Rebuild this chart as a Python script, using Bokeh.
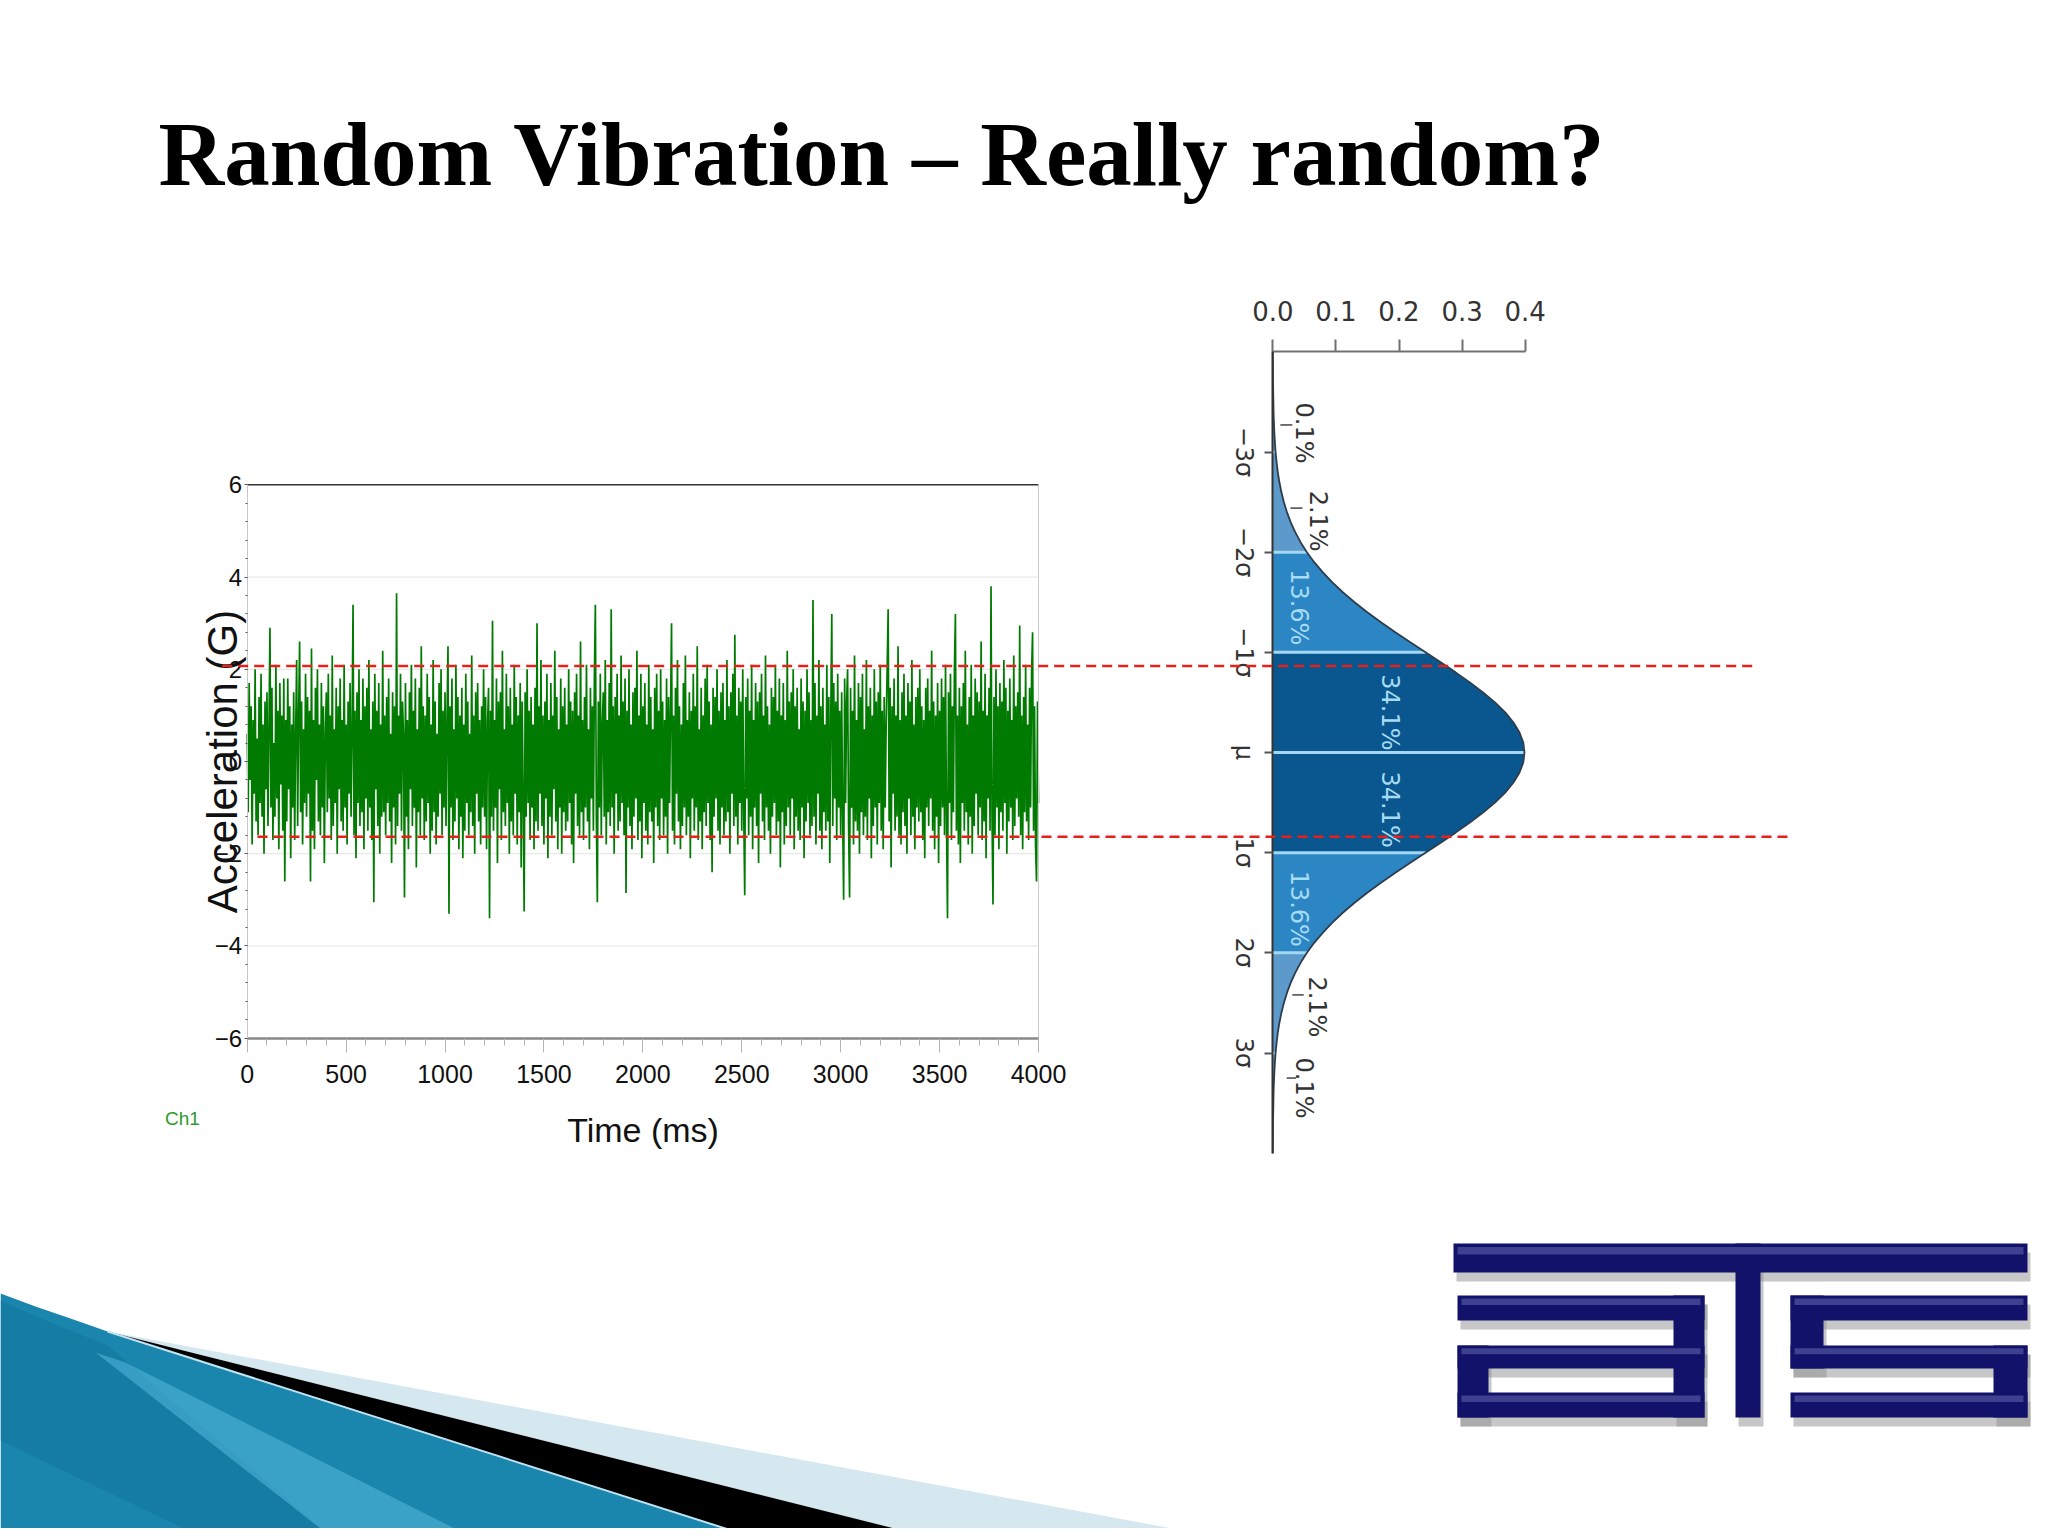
import math
from bokeh.plotting import figure
from bokeh.models import (Range1d, LinearAxis, SingleIntervalTicker, FixedTicker,
                          NumeralTickFormatter)
from bokeh.core.properties import value
from bokeh.embed import file_html
from bokeh.resources import INLINE

# ---------------- data ----------------
TITLE = "Random Vibration – Really random?"

# acceleration samples (G), one every 5 ms
ACC_G = [
    0.6, -1.1, 1.7, -0.4, 1.2, -1.8, 0.9, -0.7, 2.0, -1.3, 0.5, -1.6, 1.4, -0.9, 1.9, -1.2, 0.8, -2.0, 1.3, -0.6,
    1.5, -1.4, 0.7, 2.9, -1.0, 1.6, -1.7, 0.4, -1.2, 2.1, -0.8, 1.1, -1.9, 1.7, -0.5, 1.0, -1.5, 1.8, -2.6, 0.9,
    -1.3, 1.8, -0.6, 1.2, -2.1, 0.8, -1.0, 1.5, -1.7, 0.6, 2.2, -1.4, 1.0, 2.6, -1.1, 1.3, -1.8, 0.7, -0.9, 1.9,
    -1.2, 1.4, -0.7, 1.1, -2.6, 2.45, -1.5, 0.9, -1.9, 1.6, -0.4, 2.0, -1.3, 0.8, -1.6, 1.7, -1.0, 1.2, -2.2, 0.6,
    1.5, -1.1, 1.9, -0.8, 1.0, -1.7, 2.3, -1.4, 0.7, -0.9, 1.6, -2.0, 1.2, -0.6, 1.8, -1.3, 0.9, -1.5, 2.1, -1.0,
    0.8, -1.8, 1.3, -0.7, 1.7, -1.2, 0.6, 3.4, -1.6, 1.1, -2.1, 1.5, -0.9, 2.0, -1.4, 0.9, -1.1, 1.8, -1.9, 1.2,
    -0.8, 1.6, -1.5, 2.2, -1.0, 0.7, -1.7, 1.3, -3.05, 1.9, -0.6, 1.1, -1.4, 1.7, -2.0, 0.8, -1.2, 2.4, -1.1, 1.0,
    -1.6, 1.4, -0.9, 1.8, -1.3, 0.6, -2.2, 1.5, -1.0, 1.2, -1.8, 3.65, -1.4, 1.0, -0.7, 1.9, -1.5, 1.3, 0.6, -2.95,
    1.7, -1.2, 0.9, -1.9, 1.5, -0.6, 2.1, -1.4, 1.1, -1.0, 1.8, -2.3, 0.7, -1.1, 1.6, -1.6, 2.5, -0.8, 1.2, -1.7,
    1.0, -1.3, 1.9, -0.9, 1.4, -2.0, 0.8, -1.5, 2.2, -1.1, 1.3, -1.8, 0.6, -1.2, 1.7, -0.7, 2.0, -1.6, 1.1, -1.0,
    1.5, -1.4, 0.9, 2.5, -3.3, 1.2, -1.0, 1.8, -1.7, 0.7, -1.3, 2.1, -0.8, 1.4, -1.9, 1.0, -1.2, 1.6, -2.1, 0.8,
    -1.5, 1.9, -0.9, 1.3, -1.6, 0.6, -1.1, 2.3, -1.4, 1.0, -2.0, 1.5, -0.7, 1.7, -1.3, 0.9, -1.8, 1.2, -1.0, 2.0,
    -1.2, 1.4, -1.9, 0.8, 1.6, -3.4, 1.1, -1.2, 3.05, -1.5, 0.9, -1.0, 1.8, -2.2, 1.3, -0.6, 1.5, -1.7, 2.4, -1.1,
    0.7, -1.4, 1.9, -0.9, 1.2, -2.0, 1.6, -1.3, 0.8, -1.6, 2.1, -0.7, 1.4, -1.8, 1.0, -1.1, 1.7, -2.3, 1.3, -0.8,
    -3.25, 1.5, -1.2, 2.0, -0.9, 1.1, -1.7, 1.4, -1.0, 0.8, -1.9, 1.6, -1.3, 3.0, -1.5, 1.2, -0.7, 2.2, -1.4, 1.0,
    -1.8, 1.3, -0.8, 1.9, -2.1, 0.9, -1.2, 1.7, -1.6, 1.0, -0.6, 2.4, -1.3, 1.4, -1.9, 0.7, -1.0, 1.8, -2.0, 1.2,
    -1.1, 1.6, -1.5, 0.8, -1.3, 2.0, -0.9, 1.3, -1.8, 1.1, -2.2, 1.5, -0.7, 1.9, -1.4, 1.0, -1.6, 2.6, -1.1, 0.9,
    -1.7, 1.4, -1.0, 2.1, -1.3, 0.7, -1.9, 1.6, -0.8, 1.2, -1.5, 1.8, 3.4, -1.2, -3.05, 1.3, -1.0, 1.9, -1.6, 0.8,
    1.5, -1.2, 2.2, -1.8, 0.9, -1.1, 1.7, -1.4, 3.3, -1.0, 1.2, -2.0, 1.4, -0.7, 1.9, -1.5, 1.0, -1.3, 2.3, -0.9,
    1.3, -1.6, 1.8, -2.85, 1.1, -1.0, 2.0, -1.4, 0.8, -1.9, 1.5, -1.2, 1.6, -0.8, 2.4, -1.7, 1.0, -1.3, 1.9, -2.1,
    1.2, -0.9, 1.7, -1.5, 0.8, -1.8, 2.1, -1.1, 1.4, -1.3, 0.7, -2.2, 1.6, -1.0, 1.9, -1.4, 1.1, -1.7, 2.0, -0.8,
    1.3, -1.6, 0.9, -1.2, 1.8, -2.0, 1.4, -0.9, 1.1, 3.0, -1.5, 1.0, -1.8, 1.6, -0.7, 2.2, -1.3, 1.2, -1.9, 0.8,
    -1.4, 1.7, -1.0, 2.3, -1.6, 0.9, -1.2, 1.5, -2.1, 1.1, -0.8, 1.9, -1.5, 1.2, -1.0, 2.5, -1.7, 0.7, -1.3, 1.6,
    -1.9, 1.0, -1.1, 1.8, -1.4, 2.1, -0.9, 1.3, -1.7, 0.8, -2.4, 1.6, -1.2, 1.4, -0.8, 2.0, -1.5, 1.1, -1.8, 1.5,
    -1.0, 1.7, -1.6, 0.9, -1.3, 2.2, -1.1, 1.2, -2.0, 1.5, -0.7, 1.9, -1.4, 2.75, -1.2, 1.0, -1.8, 1.6, -0.9, 1.3,
    -1.5, 2.0, -1.1, -2.9, 1.4, -0.8, 1.8, -1.6, 1.1, -1.2, 2.1, -1.9, 0.9, -1.0, 1.7, -1.4, 1.3, -2.2, 1.5, -0.7,
    1.9, -1.3, 1.0, -1.7, 2.3, -1.0, 1.2, -1.5, 0.8, -2.0, 1.6, -1.2, 1.4, -0.9, 2.1, -1.6, 1.1, -1.3, 1.8, -2.3,
    1.0, -1.1, 1.7, -1.8, 0.9, -1.4, 2.4, -1.0, 1.3, -1.6, 1.5, -0.8, 2.0, -1.9, 1.2, -1.2, 1.6, -1.5, 0.7, -1.7,
    1.8, -1.0, 1.3, -2.1, 1.1, -1.3, 2.0, -0.9, 1.5, -1.6, 0.9, -1.4, 3.5, -1.2, 1.7, -1.8, 1.0, -0.7, 2.2, -1.5,
    1.2, -1.9, 1.6, -1.1, 0.8, -1.5, 2.1, -1.3, 1.4, -2.2, 1.0, 3.2, -1.4, 1.7, -0.8, 1.3, -1.7, 1.9, -1.0, 1.1,
    -1.6, 1.5, -1.2, -3.0, 1.8, -0.9, 1.3, 2.0, -1.4, -2.95, 1.6, -1.0, 1.1, -1.8, 2.3, -1.3, 0.9, -1.5, 1.7, -2.0,
    1.4, -1.1, 1.9, -1.6, 0.7, -1.2, 2.2, -1.7, 1.2, -0.8, 1.6, -2.1, 1.0, -1.4, 2.0, -1.0, 1.3, -1.8, 1.5, -0.9,
    2.1, -1.5, 1.1, -1.9, 1.4, -1.0, 0.8, 2.0, 3.3, -1.3, 1.6, -2.3, 1.2, -0.7, 1.8, -1.5, 1.0, -1.2, 2.5, -1.6,
    0.9, -1.8, 1.5, -1.1, 1.9, -1.4, 1.0, -2.0, 1.7, -0.8, 1.3, -1.6, 2.2, -1.2, 0.8, -1.9, 1.4, -1.0, 1.6, -1.3,
    2.0, -1.1, 1.2, -1.7, 0.9, -2.1, 1.6, -1.0, 1.8, -1.4, 1.1, -0.8, 2.4, -1.5, 1.3, -1.9, 1.0, -1.2, 1.7, -2.2,
    1.1, -1.4, 1.8, -1.0, 1.4, -1.6, 2.1, -1.3, -3.4, 1.5, -0.9, 1.9, -1.7, 1.2, -1.1, 2.0, 3.2, -1.5, 1.0, -1.8,
    1.6, -2.2, 1.2, -0.9, 1.7, -1.5, 2.4, -1.1, 0.8, -1.8, 1.4, -1.2, 2.1, -2.0, 1.0, -1.4, 1.8, -0.7, 1.5, -1.6,
    1.3, -1.0, 2.6, -1.7, 1.1, -1.3, 1.9, -2.1, 1.0, -0.8, 1.6, -1.5, 3.8, -1.2, -3.1, 1.4, -1.6, 2.0, -1.0, 1.2,
    -1.9, 1.7, -1.1, 1.3, -1.5, 2.2, -0.9, 1.6, -2.0, 1.1, -1.3, 1.8, -1.0, 0.9, -1.7, 2.3, -1.4, 1.2, -0.8, 1.5,
    -1.2, 2.95, -1.6, 1.0, -1.9, 1.4, -1.1, 2.1, -1.3, 0.8, -1.7, 1.6, -1.0, 1.9, 2.8, -1.5, 1.2, -1.8, -2.6, 1.3,
    -0.9,
]
SAMPLE_MS = 5
TIME_MS = [i * SAMPLE_MS for i in range(len(ACC_G))]
TIME_LIMITS = (0, 4000)
ACC_LIMITS = (-6, 6)
TIME_TICK_STEP = 500
ACC_TICK_STEP = 2
ACC_GRID = [-4, -2, 0, 2, 4]
RED_LEVELS_G = [2.07, -1.63]
CHANNEL = "Ch1"
TIME_LABEL = "Time (ms)"
ACC_LABEL = "Acceleration (G)"

# standard normal curve, read at 0.1 sigma steps (right half, mirrored)
SIGMA_HALF = [0.0, 0.1, 0.2, 0.3, 0.4, 0.5, 0.6, 0.7, 0.8, 0.9, 1.0, 1.1, 1.2, 1.3, 1.4,
              1.5, 1.6, 1.7, 1.8, 1.9, 2.0, 2.1, 2.2, 2.3, 2.4, 2.5, 2.6, 2.7, 2.8, 2.9,
              3.0, 3.1, 3.2, 3.3, 3.4, 3.5, 3.6, 3.7, 3.8, 3.9, 4.0]
PDF_HALF = [0.3989, 0.3970, 0.3910, 0.3814, 0.3683, 0.3521, 0.3332, 0.3123, 0.2897, 0.2661,
            0.2420, 0.2179, 0.1942, 0.1714, 0.1497, 0.1295, 0.1109, 0.0940, 0.0790, 0.0656,
            0.0540, 0.0440, 0.0355, 0.0283, 0.0224, 0.0175, 0.0136, 0.0104, 0.0079, 0.0060,
            0.0044, 0.0033, 0.0024, 0.0017, 0.0012, 0.0009, 0.0006, 0.0004, 0.0003, 0.0002,
            0.0001]
SIGMA = [-s for s in SIGMA_HALF[::-1]] + SIGMA_HALF[1:]
PDF = PDF_HALF[::-1] + PDF_HALF[1:]
DENS_TICKS = [0.0, 0.1, 0.2, 0.3, 0.4]
SIGMA_TICKS = [-3, -2, -1, 0, 1, 2, 3]
SIGMA_TICK_LABELS = ["−3σ", "−2σ", "−1σ", "μ", "1σ", "2σ", "3σ"]
BAND_EDGES = [-4, -3, -2, -1, 0, 1, 2, 3, 4]
BAND_PCT = ["0.1%", "2.1%", "13.6%", "34.1%", "34.1%", "13.6%", "2.1%", "0.1%"]
SEPARATORS = [-3, -2, -1, 0, 1, 2, 3]

# ---------------- layout / style ----------------
PAGE_X0, PAGE_X1 = 0, 2040
PAGE_Y0, PAGE_Y1 = 0, 1528
L_X0, L_X1 = 246.7, 1038.0      # page px of t = 0 and 4000
L_Y6, L_YM6 = 484.3, 1037.7     # page px of acc = 6 and -6
R_X0, R_X4 = 1272.3, 1524.7     # page px of density 0.0 and 0.4
R_YMU, R_Y3 = 752.0, 1052.5     # page px of 0 sigma and 3 sigma

BAND_COLORS = ["#6ea6d2", "#5b9acb", "#2c86c4", "#0a568e",
               "#0a568e", "#2c86c4", "#5b9acb", "#6ea6d2"]
PCT_COLORS = ["#333333", "#333333", "#a6dbf4", "#a6dbf4",
              "#a6dbf4", "#a6dbf4", "#333333", "#333333"]
PCT_SIGMA_POS = [-3.19, -2.31, -1.45, -0.40, 0.57, 1.56, 2.54, 3.35]
PCT_DENS_POS = [0.050, 0.071, 0.042, 0.1865, 0.1865, 0.042, 0.070, 0.049]
SIGMA_LABEL_DENS = -0.0464
LEADER_SIGMA = [-3.27, -2.44, 2.42, 3.25]
LEADER_D0 = [0.012, 0.028, 0.031, 0.022]
LEADER_D1 = [0.031, 0.047, 0.049, 0.037]
RED_X0 = [221.7, 257.0]
RED_X1 = [1757.0, 1792.0]

SANS = "Liberation Sans"


def x_range_for(p0, p1, d0, d1):
    s = (d1 - d0) / (p1 - p0)
    return Range1d(start=d0 + (PAGE_X0 - p0) * s, end=d0 + (PAGE_X1 - p0) * s)


def y_range_for(p0, p1, d0, d1):
    s = (d1 - d0) / (p1 - p0)
    return Range1d(start=d0 + (PAGE_Y1 - p0) * s, end=d0 + (PAGE_Y0 - p0) * s)


p = figure(width=PAGE_X1 - PAGE_X0, height=PAGE_Y1 - PAGE_Y0,
           x_range=Range1d(PAGE_X0, PAGE_X1), y_range=Range1d(PAGE_Y1, PAGE_Y0),
           x_axis_type=None, y_axis_type=None, output_backend="svg",
           toolbar_location=None, min_border=0)
p.outline_line_color = None
p.background_fill_color = "white"
p.border_fill_color = "white"

p.extra_x_ranges = {
    "t": x_range_for(L_X0, L_X1, TIME_LIMITS[0], TIME_LIMITS[1]),
    "dens": x_range_for(R_X0, R_X4, 0.0, 0.4),
}
p.extra_y_ranges = {
    "acc": y_range_for(L_Y6, L_YM6, ACC_LIMITS[1], ACC_LIMITS[0]),
    "sig": y_range_for(R_YMU, R_Y3, 0.0, 3.0),
}

# ---------------- slide decoration ----------------
p.patch([0, 35, 70, 107, 750, 0], [1293, 1306, 1318, 1331, 1536, 1536],
        fill_color="#1a85ad", line_color=None)
p.patch([0, 40, 107, 330, 200, 0], [1300, 1318, 1345, 1536, 1536, 1440],
        fill_color="#13779c", line_color=None, fill_alpha=0.6)
p.patch([95, 125, 470, 330], [1352, 1362, 1536, 1536],
        fill_color="#55b8dc", line_color=None, fill_alpha=0.55)
p.patch([107, 1215, 926], [1331, 1536, 1536], fill_color="#d5e7ef", line_color=None)
p.patch([107, 926, 750], [1331, 1536, 1536], fill_color="black", line_color=None)
p.line([107, 750], [1331, 1536], line_color="#bfe3f0", line_width=2)

LOGO_BARS = [
    (1453, 2027, 1243, 1272),
    (1457, 1704, 1295, 1320), (1673, 1704, 1295, 1417), (1457, 1704, 1345, 1368),
    (1457, 1488, 1345, 1417), (1457, 1704, 1392, 1417),
    (1735, 1760, 1243, 1417),
    (1790, 2027, 1295, 1320), (1790, 1823, 1295, 1368), (1790, 2027, 1345, 1368),
    (1993, 2027, 1345, 1417), (1790, 2027, 1392, 1417),
]
H_BARS = [b for b in LOGO_BARS if (b[1] - b[0]) > (b[3] - b[2])]
p.quad(left=[b[0] + 3 for b in LOGO_BARS], right=[b[1] + 3 for b in LOGO_BARS],
       top=[b[2] + 9 for b in LOGO_BARS], bottom=[b[3] + 9 for b in LOGO_BARS],
       fill_color="#8f8f8f", fill_alpha=0.5, line_color=None)
p.quad(left=[b[0] for b in LOGO_BARS], right=[b[1] for b in LOGO_BARS],
       top=[b[2] for b in LOGO_BARS], bottom=[b[3] for b in LOGO_BARS],
       fill_color="#12126a", line_color=None)
p.quad(left=[b[0] + 4 for b in H_BARS], right=[b[1] - 4 for b in H_BARS],
       top=[b[2] + 0.12 * (b[3] - b[2]) for b in H_BARS],
       bottom=[b[2] + 0.38 * (b[3] - b[2]) for b in H_BARS],
       fill_color="#7a7abf", fill_alpha=0.45, line_color=None)

p.text(x=[158], y=[154], text=[TITLE], text_font=value("Liberation Serif"),
       text_font_style="bold", text_font_size="91px", text_color="black",
       text_align="left", text_baseline="alphabetic")

# ---------------- left chart: time trace ----------------
p.segment(x0=[TIME_LIMITS[0]] * len(ACC_GRID), x1=[TIME_LIMITS[1]] * len(ACC_GRID),
          y0=ACC_GRID, y1=ACC_GRID, x_range_name="t", y_range_name="acc",
          line_color="#e3e3e3", line_width=1)
p.line(TIME_MS, ACC_G, x_range_name="t", y_range_name="acc",
       line_color="#007a00", line_width=1.7)
p.segment(x0=[TIME_LIMITS[0]], x1=[TIME_LIMITS[1]], y0=[ACC_LIMITS[1]], y1=[ACC_LIMITS[1]],
          x_range_name="t", y_range_name="acc", line_color="#333333", line_width=1.5)
p.segment(x0=[TIME_LIMITS[1]], x1=[TIME_LIMITS[1]], y0=[ACC_LIMITS[0]], y1=[ACC_LIMITS[1]],
          x_range_name="t", y_range_name="acc", line_color="#cccccc", line_width=1)

xa = LinearAxis(x_range_name="t", y_range_name="acc", fixed_location=ACC_LIMITS[0],
                ticker=SingleIntervalTicker(interval=TIME_TICK_STEP, num_minor_ticks=5),
                bounds=TIME_LIMITS, axis_label=TIME_LABEL)
xa.axis_line_color = "#888888"
xa.axis_line_width = 2.5
xa.major_tick_line_color = "#b5b5b5"
xa.minor_tick_line_color = "#b5b5b5"
xa.major_tick_out = 14
xa.major_tick_in = 0
xa.minor_tick_out = 7
xa.minor_tick_in = 0
xa.major_label_standoff = 13
xa.major_label_text_font = SANS
xa.major_label_text_font_size = "25px"
xa.major_label_text_color = "#111111"
xa.axis_label_text_font = SANS
xa.axis_label_text_font_size = "34px"
xa.axis_label_text_font_style = "normal"
xa.axis_label_text_color = "#111111"
xa.axis_label_standoff = 24
p.add_layout(xa, "below")

ya = LinearAxis(x_range_name="t", y_range_name="acc", fixed_location=TIME_LIMITS[0],
                ticker=SingleIntervalTicker(interval=ACC_TICK_STEP, num_minor_ticks=5),
                bounds=ACC_LIMITS)
ya.axis_line_color = "#c8c8c8"
ya.axis_line_width = 1
ya.major_tick_line_color = "#666666"
ya.minor_tick_line_color = "#555555"
ya.major_tick_out = 3
ya.major_tick_in = 0
ya.minor_tick_out = 2
ya.minor_tick_in = 0
ya.major_label_standoff = 2
ya.major_label_text_font = SANS
ya.major_label_text_font_size = "24px"
ya.major_label_text_color = "#111111"
p.add_layout(ya, "left")

p.text(x=[222], y=[0], text=[ACC_LABEL], y_range_name="acc", angle=math.pi / 2,
       text_font=value(SANS), text_font_size="42px", text_color="#111111",
       text_align="center", text_baseline="middle")
p.text(x=[182], y=[1118], text=[CHANNEL], text_font=value(SANS),
       text_font_size="19px", text_color="#2e9a2e", text_align="center",
       text_baseline="middle")

# ---------------- right chart: normal distribution ----------------
for k in range(len(BAND_EDGES) - 1):
    lo, hi = BAND_EDGES[k], BAND_EDGES[k + 1]
    idx = [i for i, s in enumerate(SIGMA) if lo - 1e-9 <= s <= hi + 1e-9]
    p.harea(x1=[0.0] * len(idx), x2=[PDF[i] for i in idx], y=[SIGMA[i] for i in idx],
            x_range_name="dens", y_range_name="sig", fill_color=BAND_COLORS[k])

sep_pdf = [PDF[SIGMA.index(float(s))] for s in SEPARATORS]
p.segment(x0=[0.0] * len(SEPARATORS), x1=sep_pdf, y0=SEPARATORS, y1=SEPARATORS,
          x_range_name="dens", y_range_name="sig", line_color="#a3d8f2", line_width=3)
p.line(PDF, SIGMA, x_range_name="dens", y_range_name="sig",
       line_color="#2e3d4c", line_width=1.8)

p.segment(x0=LEADER_D0, x1=LEADER_D1, y0=LEADER_SIGMA, y1=LEADER_SIGMA,
          x_range_name="dens", y_range_name="sig", line_color="#444444", line_width=1.5)
p.text(x=PCT_DENS_POS, y=PCT_SIGMA_POS, text=BAND_PCT, text_color=PCT_COLORS,
       x_range_name="dens", y_range_name="sig", angle=-math.pi / 2,
       text_font=value("DejaVu Sans"), text_font_size="24px",
       text_align="center", text_baseline="middle")

da = LinearAxis(x_range_name="dens", y_range_name="sig", fixed_location=-4,
                ticker=FixedTicker(ticks=DENS_TICKS), bounds=(0.0, 0.4),
                formatter=NumeralTickFormatter(format="0.0"))
da.axis_line_color = "#707070"
da.axis_line_width = 2
da.major_tick_line_color = "#707070"
da.major_tick_line_width = 2
da.major_tick_out = 12
da.major_tick_in = 0
da.major_label_standoff = 19
da.major_label_text_font = "DejaVu Sans"
da.major_label_text_font_size = "26px"
da.major_label_text_color = "#333333"
p.add_layout(da, "above")

sa = LinearAxis(x_range_name="dens", y_range_name="sig", fixed_location=0.0,
                ticker=FixedTicker(ticks=SIGMA_TICKS), bounds=(-4, 4))
sa.major_label_overrides = {t: "" for t in SIGMA_TICKS}
sa.axis_line_color = "#333333"
sa.axis_line_width = 2
sa.major_tick_line_color = "#555555"
sa.major_tick_line_width = 2
sa.major_tick_out = 8
sa.major_tick_in = 0
p.add_layout(sa, "left")
p.text(x=[SIGMA_LABEL_DENS] * len(SIGMA_TICKS), y=SIGMA_TICKS, text=SIGMA_TICK_LABELS,
       x_range_name="dens", y_range_name="sig", angle=-math.pi / 2,
       text_font=value("DejaVu Sans"), text_font_size="24px", text_color="#333333",
       text_align="center", text_baseline="middle")

# ---------------- red dashed reference lines ----------------
p.segment(x0=RED_X0, x1=RED_X1, y0=RED_LEVELS_G, y1=RED_LEVELS_G, y_range_name="acc",
          line_color="#e52119", line_width=2.5, line_dash="10 6", level="overlay")

open("out.html", "w").write(file_html(p, INLINE))
